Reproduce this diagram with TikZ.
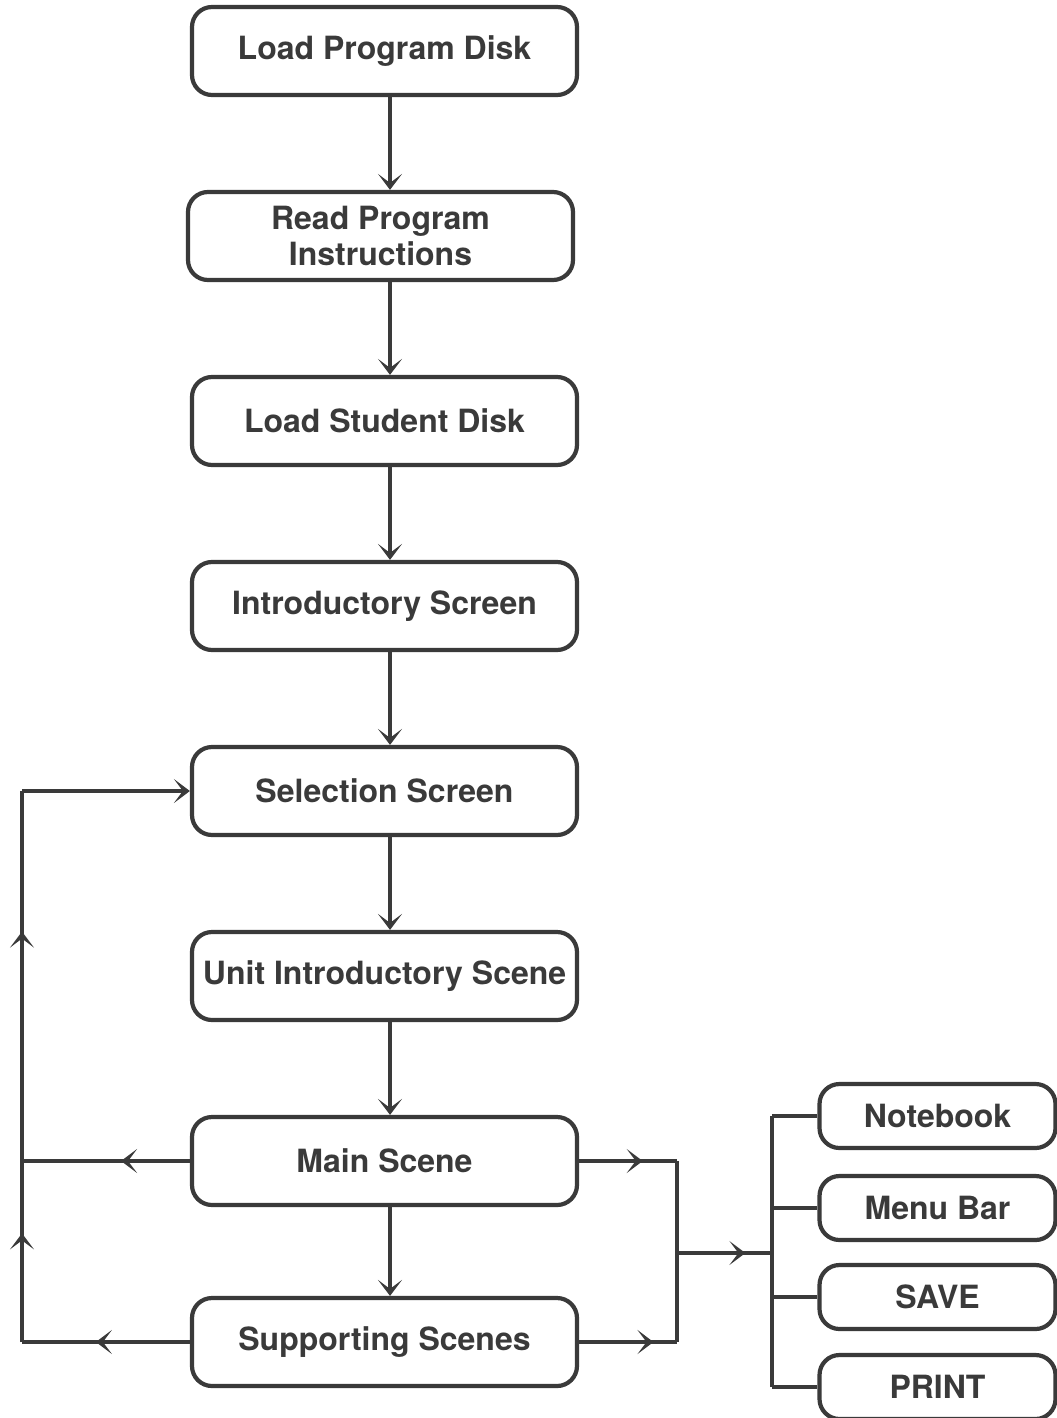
\documentclass[tikz,border=0pt]{standalone}
\usepackage{fontspec}
\setmainfont{TeX Gyre Heros}
\usetikzlibrary{arrows.meta,decorations.markings}
\definecolor{ink}{HTML}{3A3A3A}
\tikzset{
  box/.style={draw=ink, line width=2.1pt, rounded corners=10pt, text=ink,
    font=\fontsize{16}{18}\selectfont\bfseries, align=center,
    minimum width=192.5pt, minimum height=44pt, inner sep=0pt},
  sbox/.style={box, minimum width=118pt, minimum height=32pt},
  conn/.style={draw=ink, line width=1.9pt},
  tip/.tip={Stealth[length=8pt,width=12pt,inset=4.5pt]},
  endarrow/.style={conn, -{tip}},
  midarrow/.style={conn, postaction={decorate},
    decoration={markings, mark=at position #1 with {\arrow{tip}}}}
}
\begin{document}
\begin{tikzpicture}[x=0.5pt,y=-0.5pt]
\useasboundingbox (0,0) rectangle (1056,1418);
\fill[white] (0,0) rectangle (1056,1418);
% main column
\node[box] (lpd) at (384.5,51) {Load Program Disk};
\node[box] (rpi) at (380.5,236) {Read Program\\Instructions};
\node[box] (lsd) at (384.5,421) {Load Student Disk};
\node[box] (ins) at (384.5,606) {Introductory Screen};
\node[box] (sel) at (384.5,791) {Selection Screen};
\node[box] (uis) at (384.5,976) {Unit Introductory Scene};
\node[box] (ms)  at (384.5,1161) {Main Scene};
\node[box] (ss)  at (384.5,1342) {Supporting Scenes};
% right column
\node[sbox] (nb) at (937.5,1116) {Notebook};
\node[sbox] (mb) at (937.5,1208) {Menu Bar};
\node[sbox] (sv) at (937.5,1297) {SAVE};
\node[sbox] (pr) at (937.5,1387) {PRINT};
% helper coordinates
\coordinate (cx) at (390,0);
\coordinate (bus) at (772,0);
\coordinate (lt) at (22,791);
\coordinate (lm) at (22,1161);
\coordinate (lb) at (22,1342);
\coordinate (rm) at (677,1161);
\coordinate (rb) at (677,1342);
\coordinate (rc) at (677,1253);
% vertical flow
\draw[endarrow] (lpd.south -| cx) -- (rpi.north -| cx);
\draw[endarrow] (rpi.south -| cx) -- (lsd.north -| cx);
\draw[endarrow] (lsd.south -| cx) -- (ins.north -| cx);
\draw[endarrow] (ins.south -| cx) -- (sel.north -| cx);
\draw[endarrow] (sel.south -| cx) -- (uis.north -| cx);
\draw[endarrow] (uis.south -| cx) -- (ms.north -| cx);
\draw[endarrow] (ms.south -| cx) -- (ss.north -| cx);
% left loop
\draw[midarrow=0.41] (ms.west) -- (lm);
\draw[midarrow=0.56] (ss.west) -- (lb);
\draw[midarrow=0.60] (lb) -- (lm);
\draw[midarrow=0.62] (lm) -- (lt);
\draw[endarrow] (lt) -- (sel.west);
% right side
\draw[midarrow=0.65] (ms.east) -- (rm);
\draw[midarrow=0.76] (ss.east) -- (rb);
\draw[conn] (rm) -- (rb);
\draw[midarrow=0.72] (rc) -- (rc -| bus);
\draw[conn] (nb.west -| bus) -- (pr.west -| bus);
\draw[conn] (nb.west -| bus) -- (nb.west);
\draw[conn] (mb.west -| bus) -- (mb.west);
\draw[conn] (sv.west -| bus) -- (sv.west);
\draw[conn] (pr.west -| bus) -- (pr.west);
\end{tikzpicture}
\end{document}
